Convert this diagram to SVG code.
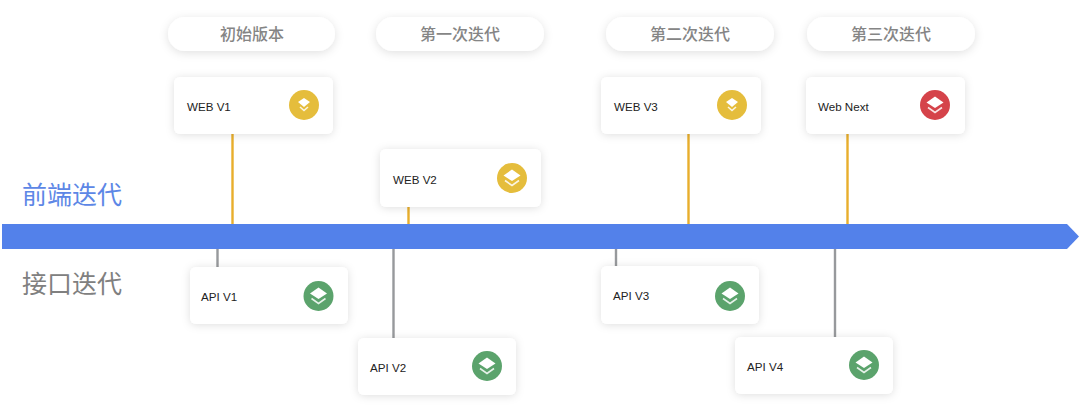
<svg xmlns="http://www.w3.org/2000/svg" width="1080" height="406" viewBox="0 0 1080 406">
<style>
text{font-family:"Liberation Sans","Noto Sans CJK SC",sans-serif}
.card{fill:#fff;filter:url(#s)}
.pill{fill:#fff;filter:url(#p)}
.pt{font-size:16px;font-weight:500;fill:#858585;text-anchor:middle;font-family:"Noto Sans CJK SC",sans-serif}
.ct{font-size:11.600px;fill:#222}
.side{font-size:25px;font-family:"Noto Sans CJK SC",sans-serif}
.o{stroke:#e8ae2c;stroke-width:2.400;fill:none}
.g{stroke:#97999c;stroke-width:2.400;fill:none}
.lay{fill:#fff}
.chev{fill:none;stroke:#fff;stroke-width:1.600;opacity:.85}
</style>
<defs>
<filter id="s" x="-20%" y="-30%" width="140%" height="170%"><feDropShadow dx="0" dy="1" stdDeviation="4" flood-color="#000" flood-opacity=".13"/></filter>
<filter id="p" x="-20%" y="-50%" width="140%" height="220%"><feDropShadow dx="0" dy="2" stdDeviation="5" flood-color="#000" flood-opacity=".12"/></filter>
<g id="ic">
<path class="lay" d="M0-8.500 8.500-2.500 0 3-8.500-2.500Z"/>
<path class="chev" d="M-7 2.500 0 7.500 7 2.500"/>
</g>
<g id="ics">
<path class="lay" d="M0-7 6-3 0 2-6-3Z"/>
<path class="chev" d="M-4 2 0 5.500 4 2"/>
</g>
</defs>
<rect width="1080" height="406" fill="#fff"/>
<g id="connectors">
<path class="o" d="M232.500 134V224M408.500 207V224M688.500 134V224M847.500 134V224"/>
<path class="g" d="M217.500 249V267M393.500 249V338M616 249V266M835 249V337"/>
</g>
<g id="timeline"><path d="M2 224H1067L1079 236.500 1067 249H2Z" fill="#5381ea"/></g>
<g id="label-front"><text class="side" x="22" y="204" fill="#5d87e6">前端迭代</text></g>
<g id="label-api"><text class="side" x="22" y="293" fill="#808080">接口迭代</text></g>
<g id="stage-0"><rect class="pill" x="168" y="17" width="167" height="34" rx="17"/><text class="pt" x="252" y="40">初始版本</text></g>
<g id="stage-1"><rect class="pill" x="376" y="17" width="168" height="34" rx="17"/><text class="pt" x="460" y="40">第一次迭代</text></g>
<g id="stage-2"><rect class="pill" x="606" y="17" width="168" height="34" rx="17"/><text class="pt" x="690" y="40">第二次迭代</text></g>
<g id="stage-3"><rect class="pill" x="807" y="17" width="168" height="34" rx="17"/><text class="pt" x="891" y="40">第三次迭代</text></g>
<g id="web-v1"><rect class="card" x="174" y="77" width="159" height="57" rx="6"/><text class="ct" x="187" y="111">WEB V1</text><circle cx="304" cy="105" r="15" fill="#e5bd3c"/><use href="#ics" x="304" y="105"/></g>
<g id="web-v2"><rect class="card" x="380" y="149" width="161" height="58" rx="6"/><text class="ct" x="393" y="183.500">WEB V2</text><circle cx="512" cy="178" r="15" fill="#e5bd3c"/><use href="#ic" x="512" y="178"/></g>
<g id="web-v3"><rect class="card" x="601" y="77" width="160" height="57" rx="6"/><text class="ct" x="614" y="111">WEB V3</text><circle cx="732" cy="105" r="15" fill="#e5bd3c"/><use href="#ics" x="732" y="105"/></g>
<g id="web-next"><rect class="card" x="806" y="77" width="159" height="57" rx="6"/><text class="ct" x="818" y="111">Web Next</text><circle cx="935" cy="105" r="15" fill="#d5434a"/><use href="#ic" x="935" y="105"/></g>
<g id="api-v1"><rect class="card" x="190" y="267" width="158" height="57" rx="6"/><text class="ct" x="201" y="301">API V1</text><circle cx="318.500" cy="296" r="15" fill="#5ba36c"/><use href="#ic" x="318.500" y="296"/></g>
<g id="api-v2"><rect class="card" x="358" y="338" width="158" height="57" rx="6"/><text class="ct" x="370" y="372">API V2</text><circle cx="487" cy="366" r="15" fill="#5ba36c"/><use href="#ic" x="487" y="366"/></g>
<g id="api-v3"><rect class="card" x="601" y="266" width="158" height="58" rx="6"/><text class="ct" x="613" y="300">API V3</text><circle cx="730" cy="296" r="15" fill="#5ba36c"/><use href="#ic" x="730" y="296"/></g>
<g id="api-v4"><rect class="card" x="735" y="337" width="158" height="57" rx="6"/><text class="ct" x="747" y="371">API V4</text><circle cx="864" cy="365" r="15" fill="#5ba36c"/><use href="#ic" x="864" y="365"/></g>
</svg>
